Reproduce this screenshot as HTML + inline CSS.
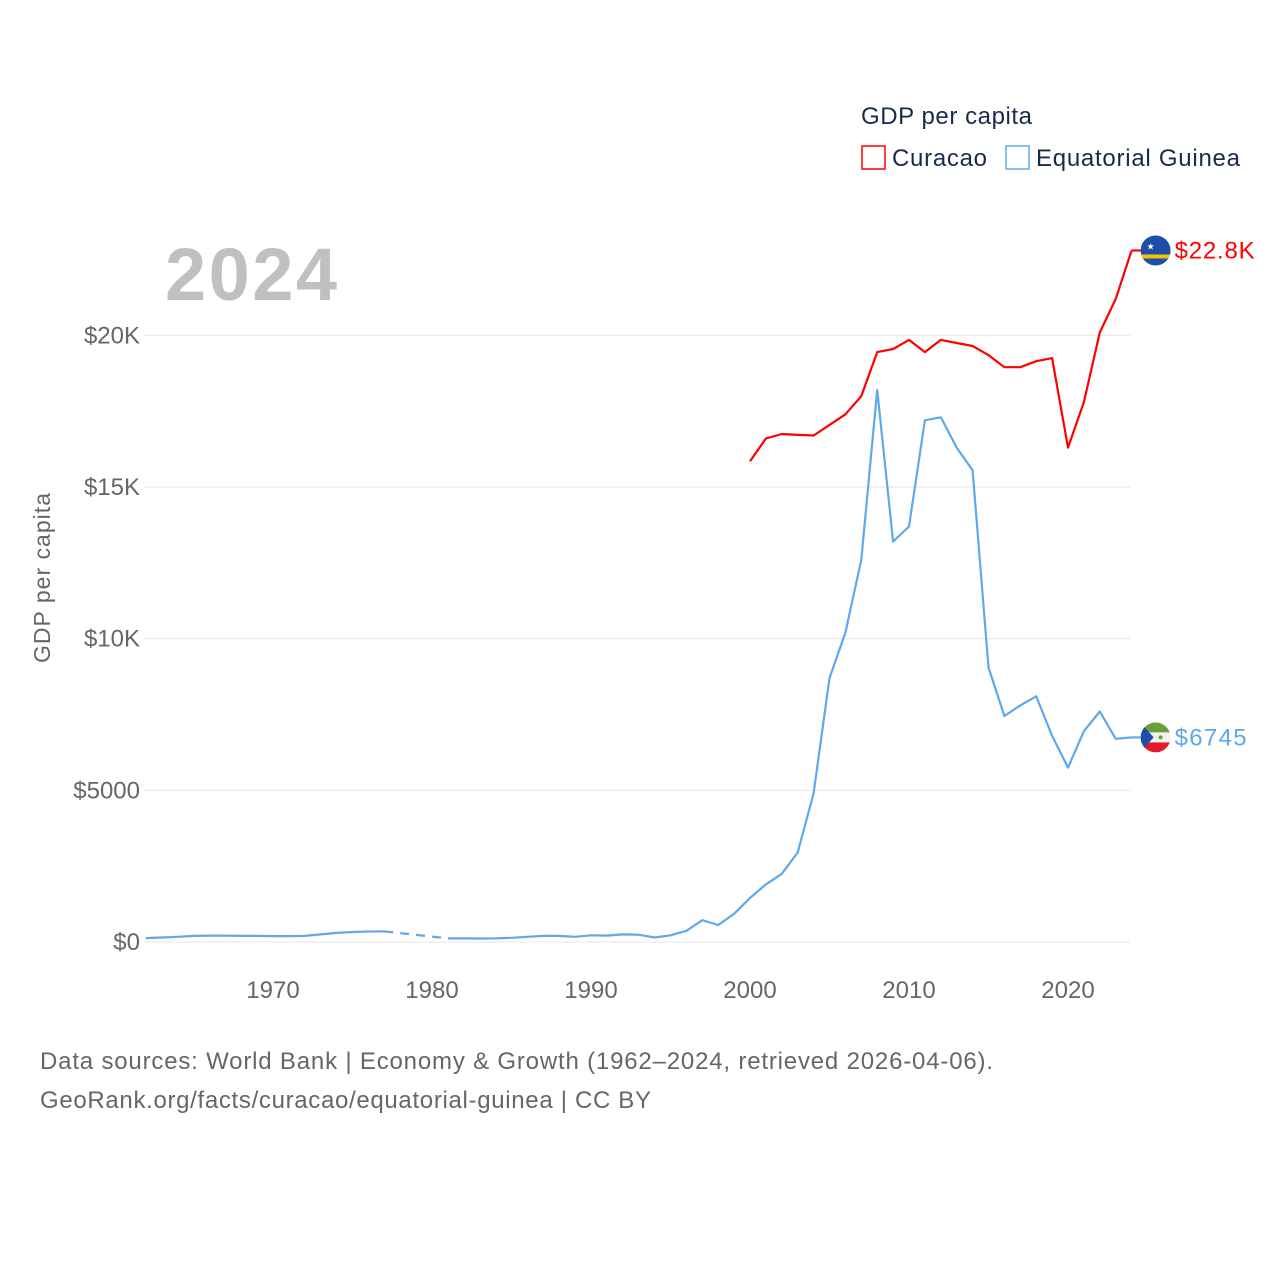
<!DOCTYPE html>
<html><head><meta charset="utf-8"><style>
body{margin:0;background:#fff;font-family:"Liberation Sans",sans-serif}
svg text{font-family:"Liberation Sans",sans-serif}
</style></head><body>
<svg width="1280" height="1280" id="chart">
<text x="861" y="124" font-size="24" fill="#1a2a4a" textLength="171">GDP per capita</text>
<rect x="862" y="146" width="23" height="23" fill="none" stroke="red" stroke-width="1.5"/>
<text x="892" y="166" font-size="24" fill="#1a2a4a" textLength="95">Curacao</text>
<rect x="1006" y="146" width="23" height="23" fill="none" stroke="#5ea8ec" stroke-width="1.5"/>
<text x="1036" y="166" font-size="24" fill="#1a2a4a" textLength="204">Equatorial Guinea</text>
<text x="165" y="300" font-size="74" font-weight="bold" fill="#c0c0c0" textLength="172">2024</text>
<text transform="translate(50,578) rotate(-90)" text-anchor="middle" font-size="23" fill="#666" textLength="170">GDP per capita</text>
<g id="grid"></g><g id="lines"></g>
<text x="40" y="1069" font-size="24" fill="#666" textLength="953">Data sources: World Bank | Economy &amp; Growth (1962–2024, retrieved 2026-04-06).</text>
<text x="40" y="1108" font-size="24" fill="#666" textLength="611">GeoRank.org/facts/curacao/equatorial-guinea | CC BY</text>
</svg>
<script>
const egYears=[1962,1963,1964,1965,1966,1967,1968,1969,1970,1971,1972,1973,1974,1975,1976,1977,1981,1982,1983,1984,1985,1986,1987,1988,1989,1990,1991,1992,1993,1994,1995,1996,1997,1998,1999,2000,2001,2002,2003,2004,2005,2006,2007,2008,2009,2010,2011,2012,2013,2014,2015,2016,2017,2018,2019,2020,2021,2022,2023,2024];
const egValues=[130,150,170,200,210,210,200,200,195,195,200,250,300,330,345,350,120,120,115,120,140,170,200,200,170,220,210,250,240,150,220,370,720,560,930,1450,1900,2250,2950,4900,8700,10200,12600,18200,13200,13700,17200,17300,16300,15550,9050,7450,7800,8100,6800,5750,6950,7600,6700,6745];
const cuYears=[2000,2001,2002,2003,2004,2005,2006,2007,2008,2009,2010,2011,2012,2013,2014,2015,2016,2017,2018,2019,2020,2021,2022,2023,2024];
const cuValues=[15850,16600,16750,16720,16700,17050,17400,18000,19450,19550,19850,19450,19850,19750,19650,19350,18950,18950,19150,19250,16300,17800,20100,21200,22800];
const yTicks=[0,5000,10000,15000,20000];
const yTickLabels=["$0","$5000","$10K","$15K","$20K"];
const xTicks=[1970,1980,1990,2000,2010,2020];
const X=y=>145.8+(y-1962)*15.9, Y=v=>942-v*0.03033;
const NS="http://www.w3.org/2000/svg";
const grid=document.getElementById('grid'),lines=document.getElementById('lines');
function mk(tag,attrs,parent){const e=document.createElementNS(NS,tag);for(const k in attrs)e.setAttribute(k,attrs[k]);parent.appendChild(e);return e;}
yTicks.forEach((t,i)=>{
 const l=mk('line',{x1:145,x2:1130,y1:Y(t),y2:Y(t),stroke:'#e6e6e6','stroke-width':1},grid);
 
 
 const tx=mk('text',{x:140,y:Y(t)+8,'text-anchor':'end','font-size':24,fill:'#666'},grid);
 tx.textContent=yTickLabels[i];
 
 
});
xTicks.forEach(t=>{
 const tx=mk('text',{x:X(t),y:998,'text-anchor':'middle','font-size':24,fill:'#666'},grid);
 tx.textContent=t;
 
 
});
function draw(ys,vs,color,name){
 let seg=[];const segs=[];
 for(let i=0;i<ys.length;i++){
  if(i>0&&ys[i]-ys[i-1]>1){segs.push(seg);
   const d=mk('line',{x1:X(ys[i-1]),y1:Y(vs[i-1]),x2:X(ys[i]),y2:Y(vs[i]),stroke:color,'stroke-width':2.2,'stroke-dasharray':'9 7'},lines);
   
   
   seg=[];}
  seg.push(X(ys[i]).toFixed(1)+','+Y(vs[i]).toFixed(1));
 }
 segs.push(seg);
 segs.forEach(s=>{const p=mk('polyline',{points:s.join(' '),fill:'none',stroke:color,'stroke-width':2.2,'stroke-linejoin':'round'},lines);
  
  });
 const lx=X(ys[ys.length-1]),ly=Y(vs[vs.length-1]);
 const t=mk('line',{x1:lx,y1:ly,x2:lx+10,y2:ly,stroke:color,'stroke-width':2.2},lines);
 
 
 return [lx+24,ly];
}
const [cx,cy]=draw(cuYears,cuValues,'#ff0000','curacao');
const [ex,ey]=draw(egYears,egValues,'#5ea8ec','equatorial-guinea');
let g=mk('g',{},lines);
mk('defs',{},g).innerHTML='<clipPath id="c1"><circle cx="'+cx+'" cy="'+cy+'" r="15"/></clipPath><clipPath id="c2"><circle cx="'+ex+'" cy="'+ey+'" r="15"/></clipPath>';
let gc=mk('g',{'clip-path':'url(#c1)'},g);
mk('rect',{x:cx-15,y:cy-15,width:30,height:30,fill:'#1d4fa8'},gc);
mk('rect',{x:cx-15,y:cy+4,width:30,height:4,fill:'#f5c400'},gc);
mk('text',{x:cx-9,y:cy-1,'font-size':9,fill:'#fff'},gc).textContent='★';
const cl=mk('text',{x:cx+19,y:cy+8,'font-size':24,fill:'#ff0000',textLength:80},lines);cl.textContent='$22.8K';


let g2=mk('g',{'clip-path':'url(#c2)'},lines);
mk('rect',{x:ex-15,y:ey-15,width:30,height:10,fill:'#6a9f3c'},g2);
mk('rect',{x:ex-15,y:ey-5,width:30,height:10,fill:'#f2f2f2'},g2);
mk('rect',{x:ex-15,y:ey+5,width:30,height:10,fill:'#e31a2c'},g2);
mk('polygon',{points:(ex-15)+','+(ey-15)+' '+(ex-2)+','+ey+' '+(ex-15)+','+(ey+15),fill:'#1d4fa8'},g2);
mk('circle',{cx:ex+5,cy:ey,r:2,fill:'#6a9f3c'},g2);
const el=mk('text',{x:ex+19,y:ey+8,'font-size':24,fill:'#5ea8ec',textLength:72},lines);el.textContent='$6745';


</script>
</body></html>
